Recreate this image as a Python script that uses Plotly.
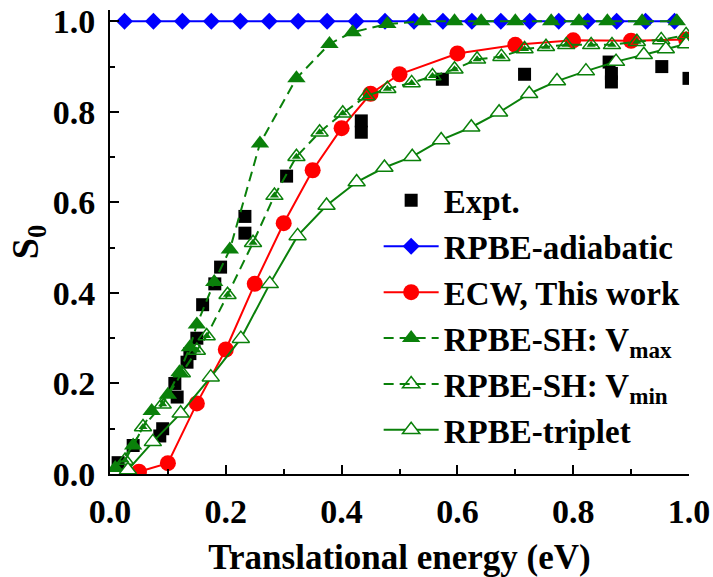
import plotly.graph_objects as go

# ---------------- data ----------------
expt_x = [0.014, 0.040, 0.086, 0.091, 0.112, 0.116, 0.133, 0.138, 0.150, 0.160, 0.181, 0.191,
          0.233, 0.233, 0.305, 0.434, 0.434, 0.574, 0.716, 0.862, 0.866, 0.866, 0.953, 1.000]
expt_y = [0.025, 0.063, 0.084, 0.100, 0.200, 0.170, 0.247, 0.266, 0.300, 0.374, 0.420, 0.457,
          0.532, 0.569, 0.658, 0.780, 0.755, 0.872, 0.883, 0.910, 0.885, 0.866, 0.900, 0.874]

adiab_x = [0.025, 0.075, 0.125, 0.175, 0.225, 0.275, 0.325, 0.375, 0.425, 0.475,
           0.525, 0.575, 0.625, 0.675, 0.725, 0.775, 0.825, 0.875, 0.925, 0.975]
adiab_y = [1.0] * 20

ecw_x = [0.05, 0.10, 0.15, 0.20, 0.25, 0.30, 0.35, 0.40, 0.45, 0.50, 0.60, 0.70, 0.80, 0.90, 0.995]
ecw_y = [0.005, 0.024, 0.156, 0.275, 0.420, 0.554, 0.671, 0.764, 0.840, 0.883, 0.929, 0.948, 0.958, 0.957, 0.960]

vmax_x = [0.009, 0.040, 0.072, 0.100, 0.120, 0.138, 0.150, 0.180, 0.207, 0.259, 0.322, 0.379,
          0.419, 0.479, 0.540, 0.595, 0.641, 0.700, 0.762, 0.810, 0.859, 0.919, 0.979]
vmax_y = [0.013, 0.063, 0.139, 0.175, 0.225, 0.280, 0.330, 0.424, 0.496, 0.730, 0.874, 0.950,
          0.976, 0.994, 1.0, 1.0, 1.0, 1.0, 1.0, 1.0, 1.0, 1.0, 1.0]

vmin_x = [0.026, 0.057, 0.091, 0.124, 0.150, 0.167, 0.203, 0.247, 0.284, 0.322, 0.362, 0.402,
          0.443, 0.479, 0.521, 0.557, 0.595, 0.634, 0.676, 0.716, 0.753, 0.788, 0.831, 0.867,
          0.910, 0.952, 0.995]
vmin_y = [0.030, 0.104, 0.154, 0.223, 0.273, 0.305, 0.396, 0.511, 0.615, 0.701, 0.755, 0.797,
          0.835, 0.851, 0.864, 0.879, 0.894, 0.916, 0.922, 0.939, 0.944, 0.948, 0.948, 0.948,
          0.955, 0.959, 0.970]

trip_x = [0.031, 0.074, 0.122, 0.174, 0.226, 0.276, 0.324, 0.374, 0.426, 0.474, 0.522,
          0.572, 0.624, 0.672, 0.724, 0.772, 0.822, 0.874, 0.922, 0.960, 0.995]
trip_y = [0.009, 0.071, 0.134, 0.214, 0.299, 0.420, 0.526, 0.593, 0.645, 0.677, 0.701,
          0.738, 0.766, 0.799, 0.840, 0.868, 0.890, 0.911, 0.926, 0.939, 0.950]

x_ticks = [0.0, 0.2, 0.4, 0.6, 0.8, 1.0]
y_ticks = [0.0, 0.2, 0.4, 0.6, 0.8, 1.0]

names = ["Expt.", "RPBE-adiabatic", "ECW, This work", "RPBE-SH: V<sub>max</sub>",
         "RPBE-SH: V<sub>min</sub>", "RPBE-triplet"]

GREEN = "#0a800a"
FONT = "Liberation Serif"

fig = go.Figure()
fig.add_trace(go.Scatter(x=expt_x, y=expt_y, mode="markers", name=names[0],
                         marker=dict(symbol="square", size=13, color="black")))
fig.add_trace(go.Scatter(x=adiab_x, y=adiab_y, mode="lines+markers", name=names[1],
                         line=dict(color="#0000ff", width=2),
                         marker=dict(symbol="diamond", size=13, color="#0000ff")))
fig.add_trace(go.Scatter(x=ecw_x, y=ecw_y, mode="lines+markers", name=names[2],
                         line=dict(color="#ff0000", width=2),
                         marker=dict(symbol="circle", size=16, color="#ff0000")))
fig.add_trace(go.Scatter(x=vmax_x, y=vmax_y, mode="lines+markers", name=names[3],
                         line=dict(color=GREEN, width=2, dash="10px,6px"),
                         marker=dict(symbol="triangle-up", size=16, color=GREEN)))
fig.add_trace(go.Scatter(x=vmin_x, y=vmin_y, mode="lines+markers", name=names[4],
                         legendgroup="vmin",
                         line=dict(color=GREEN, width=2, dash="10px,6px"),
                         marker=dict(symbol="triangle-up-open", size=15, color=GREEN,
                                     line=dict(width=1.5))))
fig.add_trace(go.Scatter(x=vmin_x, y=vmin_y, mode="markers", name=names[4],
                         legendgroup="vmin", showlegend=False,
                         marker=dict(symbol="triangle-up", size=8, color=GREEN)))
fig.add_trace(go.Scatter(x=trip_x, y=trip_y, mode="lines+markers", name=names[5],
                         line=dict(color=GREEN, width=2),
                         marker=dict(symbol="triangle-up", size=15, color="white",
                                     line=dict(color=GREEN, width=1.5))))

axis_common = dict(
    showline=True, linecolor="black", linewidth=2, mirror=False,
    ticks="inside", ticklen=9, tickwidth=2, tickcolor="black",
    showgrid=False, zeroline=False, ticklabeloverflow="allow",
    tickfont=dict(family=FONT, size=34, color="black", weight="bold"),
    minor=dict(ticks="inside", ticklen=5, tickwidth=2, tickcolor="black", dtick=0.1),
)

fig.update_xaxes(range=[0, 1.0], tickvals=x_ticks, tickformat=".1f",
                 ticklabelstandoff=6,
                 title=dict(text="Translational energy (eV)", standoff=20,
                            font=dict(family=FONT, size=35, color="black", weight="bold")),
                 **axis_common)
fig.update_yaxes(range=[0, 1.025], tickvals=y_ticks, tickformat=".1f",
                 ticklabelstandoff=6,
                 title=dict(text="S<sub>0</sub>", standoff=2,
                            font=dict(family=FONT, size=38, color="black", weight="bold")),
                 **axis_common)

fig.update_layout(
    width=713, height=577,
    margin=dict(l=110, r=23, t=3, b=101),
    plot_bgcolor="white", paper_bgcolor="white",
    showlegend=True,
    legend=dict(x=0.464, y=0.65, xanchor="left", yanchor="top",
                bgcolor="rgba(0,0,0,0)", borderwidth=0,
                font=dict(family=FONT, size=33, color="black", weight="bold"),
                tracegroupgap=0, itemwidth=55),
)

fig.write_html("out.html", config={"displayModeBar": False},
               post_script="document.body.style.margin='0px';")
